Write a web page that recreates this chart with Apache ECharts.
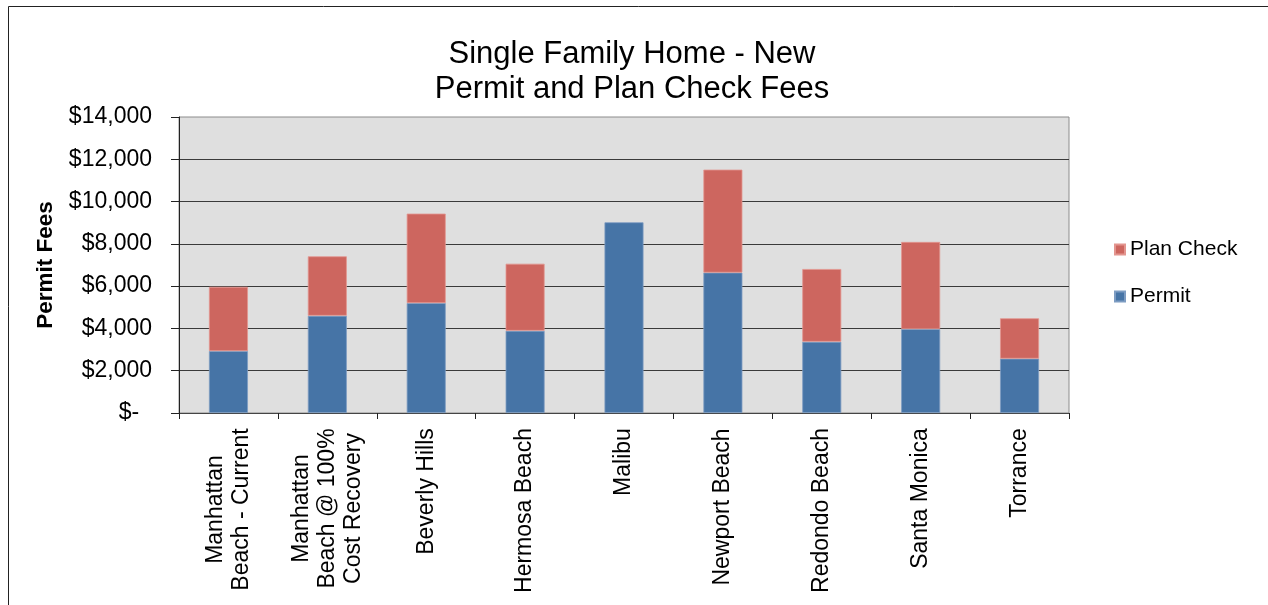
<!DOCTYPE html>
<html>
<head>
<meta charset="utf-8">
<title>Single Family Home - New Permit and Plan Check Fees</title>
<script src="https://cdn.jsdelivr.net/npm/echarts@6/dist/echarts.min.js"></script>
<style>
  html, body { margin: 0; padding: 0; background: #fff; }
  #main { width: 1268px; height: 605px; }
</style>
</head>
<body>
<div id="main"></div>
<script>
// 城市 / 方案
const categories = [
  "Manhattan\nBeach - Current",
  "Manhattan\nBeach @ 100%\nCost Recovery",
  "Beverly Hills",
  "Hermosa Beach",
  "Malibu",
  "Newport Beach",
  "Redondo Beach",
  "Santa Monica",
  "Torrance",
];

// 许可费 (下层)
const permitFees = [2930, 4600, 5200, 3890, 9020, 6640, 3370, 3970, 2570];

// 图纸审查费 (上层), Malibu 没有
const planCheckFees = [3040, 2810, 4230, 3170, null, 4870, 3440, 4120, 1910];

// y 轴刻度
const yMin = 0;
const yMax = 14000;
const yStep = 2000;

const fontFamily = '"Liberation Sans", Arial, sans-serif';
const labelSize = 23;

// 多行标签居中: 每个标签按最长一行给出宽度
const measureCtx = document.createElement("canvas").getContext("2d");
measureCtx.font = labelSize + 'px "Liberation Sans", Arial, sans-serif';
const labelRich = {};
categories.forEach((name, i) => {
  const w = Math.max(...name.split("\n").map((l) => measureCtx.measureText(l).width));
  labelRich["c" + i] = {
    width: Math.ceil(w),
    align: "center",
    fontSize: labelSize,
    lineHeight: 26,
    fontFamily: fontFamily,
    color: "#000",
  };
});

var myChart = echarts.init(document.getElementById("main"));

var option = {
  backgroundColor: "#fff",
  animation: false,
  textStyle: { fontFamily: fontFamily },
  graphic: [
    {
      type: "rect",
      shape: { x: 8.5, y: 6.5, width: 1300, height: 700 },
      style: { fill: "none", stroke: "#222", lineWidth: 1 },
      silent: true,
    },
  ],
  title: {
    text: "Single Family Home - New\nPermit and Plan Check Fees",
    left: 627,
    top: 32,
    textAlign: "center",
    textStyle: {
      fontFamily: fontFamily,
      fontSize: 31,
      lineHeight: 35,
      fontWeight: "normal",
      color: "#000",
    },
  },
  legend: {
    orient: "vertical",
    left: 1114,
    top: 239,
    padding: 0,
    itemWidth: 10,
    itemHeight: 10,
    itemGap: 26,
    icon: "rect",
    data: ["Plan Check", "Permit"],
    textStyle: { fontFamily: fontFamily, fontSize: 21, color: "#000" },
  },
  grid: {
    left: 179,
    top: 117,
    right: 199,
    bottom: 192,
    show: true,
    backgroundColor: "#dfdfdf",
    borderColor: "#8c8c8c",
    borderWidth: 1,
  },
  xAxis: {
    type: "category",
    data: categories,
    axisLine: { lineStyle: { color: "#444", width: 1 } },
    axisTick: { show: true, length: 6, lineStyle: { color: "#222" } },
    axisLabel: {
      rotate: 90,
      margin: 15,
      interval: 0,
      formatter: (value, index) =>
        value
          .split("\n")
          .map((l) => "{c" + index + "|" + l + "}")
          .join("\n"),
      rich: labelRich,
    },
  },
  yAxis: {
    type: "value",
    min: yMin,
    max: yMax,
    interval: yStep,
    name: "Permit Fees",
    nameLocation: "middle",
    nameGap: 122,
    nameTextStyle: {
      fontFamily: fontFamily,
      fontSize: 22.5,
      fontWeight: "bold",
      color: "#000",
    },
    axisLine: { show: true, lineStyle: { color: "#222", width: 1 } },
    axisTick: { show: true, length: 8, lineStyle: { color: "#222" } },
    axisLabel: {
      margin: 27,
      fontSize: labelSize,
      color: "#000",
      fontFamily: fontFamily,
      formatter: (v) => (v === 0 ? "$-  " : "$" + v.toLocaleString("en-US")),
    },
    splitLine: {
      show: true,
      showMinLine: false,
      showMaxLine: false,
      lineStyle: { color: "#3a3a3a", width: 1 },
    },
  },
  series: [
    {
      name: "Permit",
      type: "bar",
      stack: "fees",
      barWidth: 39,
      data: permitFees,
      itemStyle: { color: "#4674a6", borderColor: "#7d9cc2", borderWidth: 0.8 },
    },
    {
      name: "Plan Check",
      type: "bar",
      stack: "fees",
      barWidth: 39,
      data: planCheckFees,
      itemStyle: { color: "#cd665f", borderColor: "#e3958f", borderWidth: 0.8 },
    },
  ],
};

myChart.setOption(option);
</script>
</body>
</html>
